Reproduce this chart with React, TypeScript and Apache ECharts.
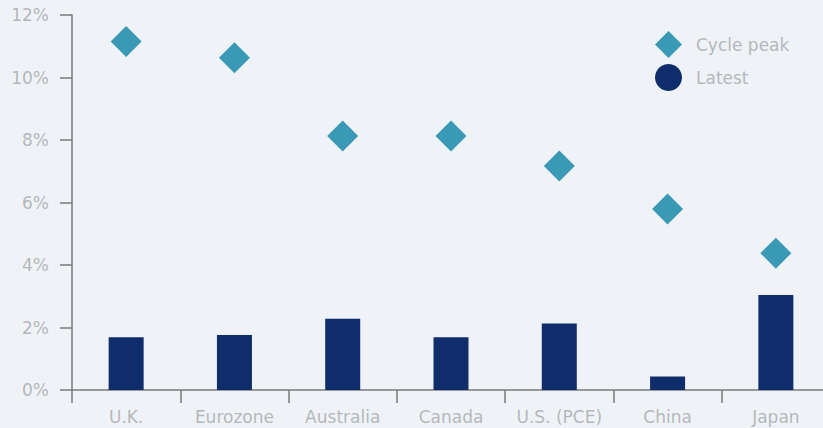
import React, { useEffect, useRef } from "react";
import * as echarts from "echarts";

const categories = ["U.K.", "Eurozone", "Australia", "Canada", "U.S. (PCE)", "China", "Japan"];
const cyclePeak = [11.15, 10.63, 8.13, 8.13, 7.17, 5.79, 4.38];
const latest = [1.69, 1.76, 2.28, 1.69, 2.13, 0.43, 3.04];
const yTicks = [0, 2, 4, 6, 8, 10, 12];

export default function App() {
  const ref = useRef<HTMLDivElement>(null);
  useEffect(() => {
    document.body.style.margin = "0";
    const chart = echarts.init(ref.current!, null, { renderer: "svg" });
    const font = "DejaVu Sans";
    const labelColor = "#b5b8bb";
    chart.setOption({
      animation: false,
      backgroundColor: "#eff3f7",
      textStyle: { fontFamily: font },
      grid: { left: 72, top: 15, right: 0, height: 375, containLabel: false },
      legend: {
        orient: "vertical",
        left: 650,
        top: 26,
        itemWidth: 27,
        itemHeight: 27,
        itemGap: 6,
        textStyle: { color: labelColor, fontSize: 17, fontFamily: font, padding: [0, 0, 0, 9] },
        data: [
          { name: "Cycle peak", icon: "diamond" },
          { name: "Latest", icon: "circle" },
        ],
      },
      xAxis: {
        type: "category",
        data: categories,
        axisLine: { lineStyle: { color: "#7a7a7a", width: 1.5 } },
        axisTick: { show: true, length: 13, lineStyle: { color: "#7a7a7a", width: 1.5 } },
        axisLabel: { color: labelColor, fontSize: 17, margin: 18, fontFamily: font, interval: 0 },
      },
      yAxis: {
        type: "value",
        min: 0,
        max: 12,
        interval: 2,
        splitLine: { show: false },
        axisLine: { show: true, lineStyle: { color: "#7a7a7a", width: 1.5 } },
        axisTick: { show: true, length: 12, lineStyle: { color: "#7a7a7a", width: 1.5 } },
        axisLabel: {
          color: labelColor,
          fontSize: 17,
          margin: 23,
          fontFamily: font,
          formatter: (v: number) => (yTicks.includes(v) ? v + "%" : ""),
        },
      },
      series: [
        {
          name: "Latest",
          type: "bar",
          data: latest,
          barWidth: 35,
          itemStyle: { color: "#0f2d6a" },
        },
        {
          name: "Cycle peak",
          type: "scatter",
          data: cyclePeak,
          symbol: "diamond",
          symbolSize: 31,
          itemStyle: { color: "#3a9ab6", opacity: 1 },
        },
      ],
    });
    return () => chart.dispose();
  }, []);
  return (
    <div style={{ width: 823, height: 428, overflow: "hidden", position: "relative" }}>
      <div ref={ref} style={{ width: 830, height: 428 }} />
    </div>
  );
}
